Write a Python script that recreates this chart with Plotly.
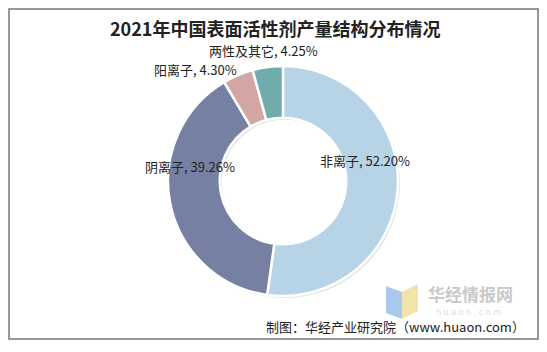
import plotly.graph_objects as go

categories = ["非离子", "阴离子", "阳离子", "两性及其它"]
values = [52.20, 39.26, 4.30, 4.25]
colors = ["#b7d3e6", "#7680a3", "#d4a5a5", "#70acab"]
title = "2021年中国表面活性剂产量结构分布情况"
source = "制图：华经产业研究院（www.huaon.com）"

W, H = 547, 352
cx, cy, R = 283, 181, 115

def px(x):
    return x / W

def py(y):
    return 1 - y / H

fig = go.Figure()
# subtle shadow
fig.add_trace(go.Pie(
    values=values, sort=False, direction="clockwise", rotation=0,
    hole=0.55, marker=dict(colors=["rgba(0,0,0,0.10)"] * 4, line=dict(width=0)),
    textinfo="none", hoverinfo="skip", showlegend=False,
    domain=dict(x=[px(cx - R + 2), px(cx + R + 2)], y=[py(cy + R + 2), py(cy - R + 2)]),
))
fig.add_trace(go.Pie(
    labels=categories, values=values, sort=False, direction="clockwise", rotation=0,
    hole=0.55, marker=dict(colors=colors, line=dict(color="white", width=2.5)),
    textinfo="none", showlegend=False,
    domain=dict(x=[px(cx - R), px(cx + R)], y=[py(cy + R), py(cy - R)]),
))

def ann(x, y, text, size, color, xanchor="center", family="Noto Sans CJK SC"):
    fig.add_annotation(x=px(x), y=py(y), xref="paper", yref="paper", text=text,
                       xanchor=xanchor, yanchor="middle", showarrow=False,
                       font=dict(size=size, color=color, family=family))

label_pos = [(365, 160), (190, 167), (195, 69), (263, 50)]
for name, v, (lx, ly) in zip(categories, values, label_pos):
    ann(lx, ly, f"{name}, {v:.2f}%", 13, "#222222")

ann(275, 28, f"<b>{title}</b>", 18, "#222222")

# watermark logo
fig.add_shape(type="path", xref="paper", yref="paper",
              path=f"M {px(386)},{py(286)} L {px(402)},{py(292)} L {px(402)},{py(319)} L {px(386)},{py(313)} Z",
              fillcolor="#a9c9ee", line=dict(width=0))
fig.add_shape(type="path", xref="paper", yref="paper",
              path=f"M {px(402)},{py(292)} L {px(418)},{py(284)} L {px(418)},{py(311)} L {px(402)},{py(319)} Z",
              fillcolor="#f3e3a8", line=dict(width=0))
ann(471, 293, "<b>华经情报网</b>", 17, "#c9c9c9")
ann(468, 312, "h u a o n . c o m", 8, "#dcdcdc", family="DejaVu Sans")

ann(527, 326, source, 13, "#222222", xanchor="right")

# frame
fig.add_shape(type="rect", xref="paper", yref="paper",
              x0=px(9), x1=px(538), y0=py(339), y1=py(9),
              line=dict(color="#777777", width=1.5))

fig.update_layout(width=W, height=H, margin=dict(l=0, r=0, t=0, b=0),
                  paper_bgcolor="white", plot_bgcolor="white")
fig.write_html("out.html")
